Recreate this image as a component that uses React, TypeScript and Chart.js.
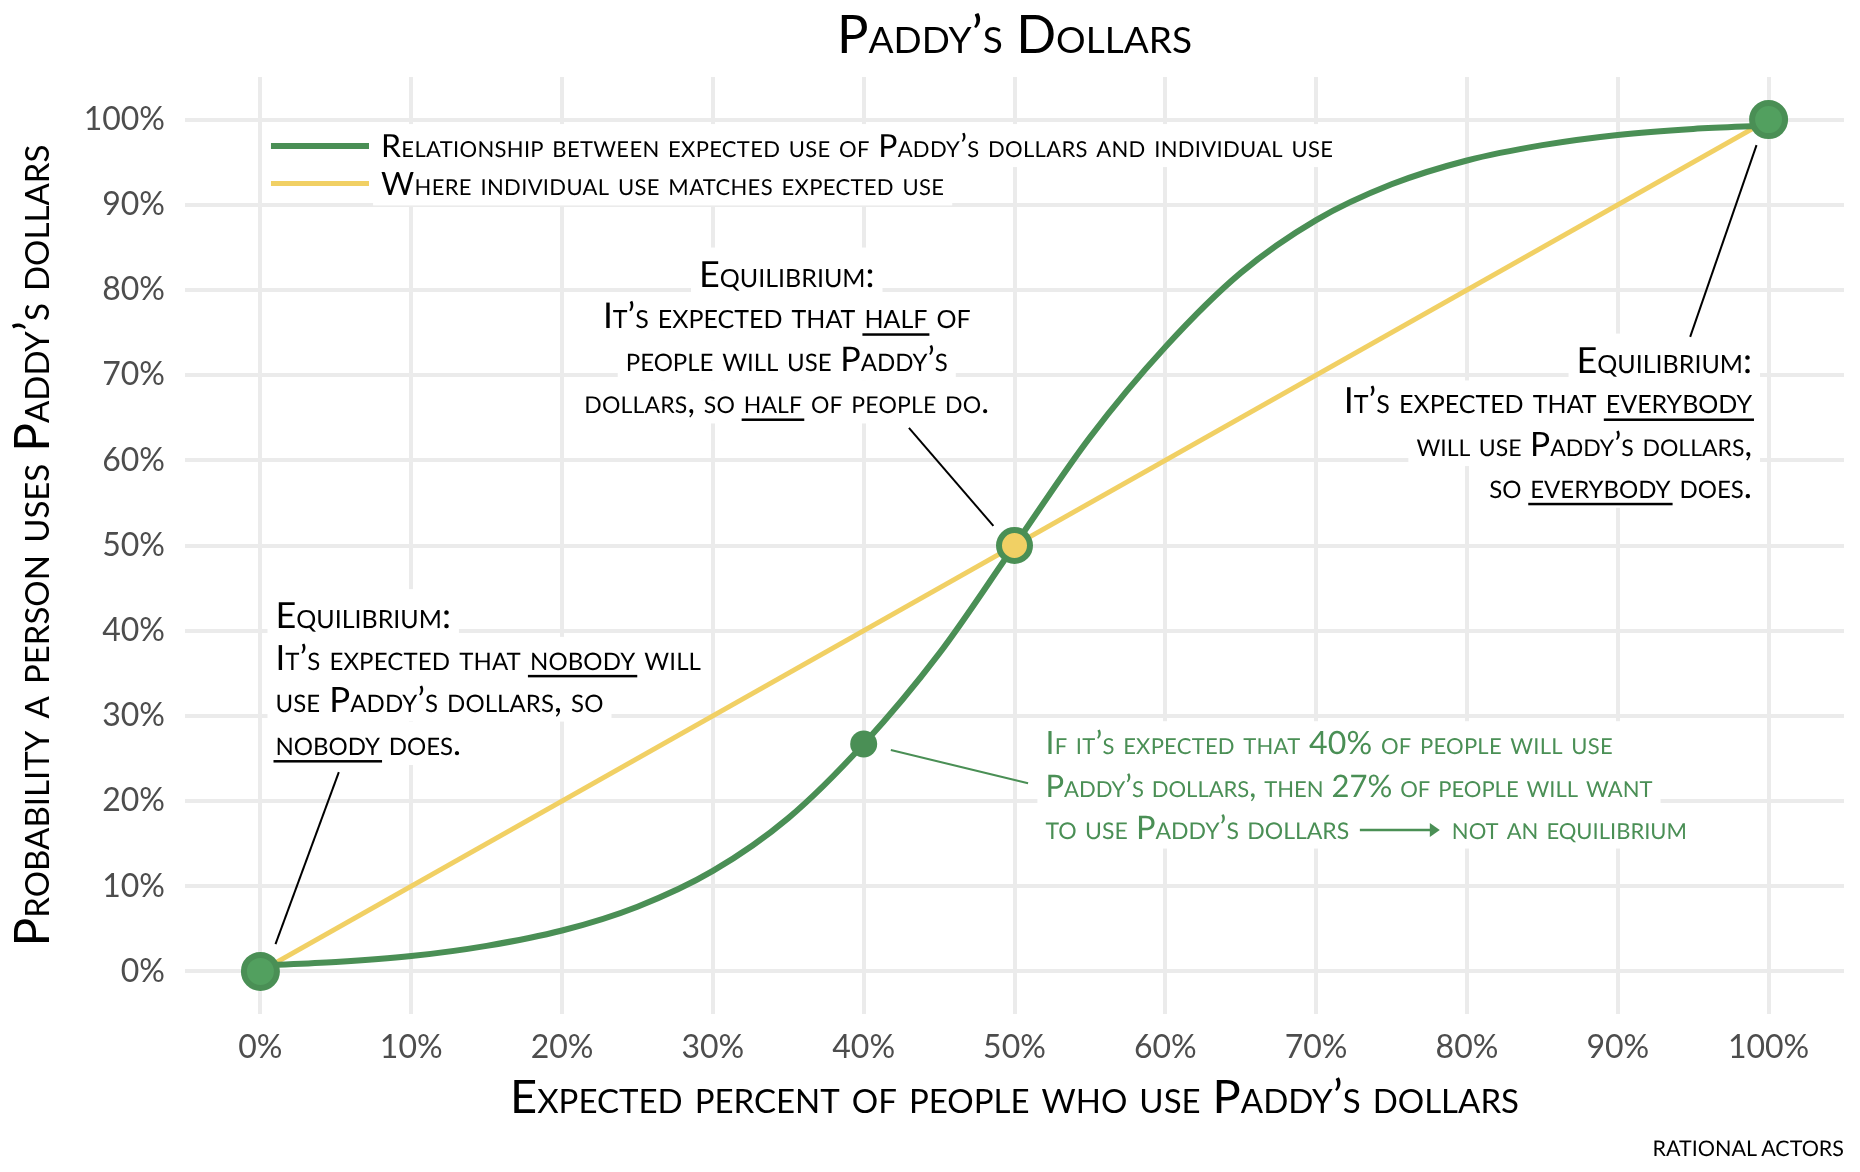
import { useEffect, useRef } from "react";
import { Chart, registerables, type Plugin } from "chart.js";

Chart.register(...registerables);

const GREEN = "#4a8f55";
const GREEN_LIGHT = "#52a05f";
const YELLOW = "#f1d064";
const GRID = "#ebebeb";
const TICK_TEXT = "#4d4d4d";
const FAMILY = "Lato";

const tickValues = [0, 10, 20, 30, 40, 50, 60, 70, 80, 90, 100];

const expectedUse = [
  0, 5, 10, 15, 20, 25, 30, 35, 40, 45, 50, 55, 60, 65, 70, 75, 80, 85, 90, 95,
  100,
];
const individualUse = [
  0.7, 1.1, 1.8, 3.0, 4.8, 7.6, 11.8, 18.0, 26.7, 37.3, 50, 62.7, 73.3, 82.0,
  88.2, 92.4, 95.2, 97.0, 98.2, 98.9, 99.3,
];
const diagonalX = [0, 100];
const diagonalY = [0, 100];

const equilibriaX = [0, 100];
const equilibriaY = [0, 100];
const middleX = [50];
const middleY = [50];
const offPointX = [40];
const offPointY = [26.7];

type TextLine = {
  text: string;
  x: number;
  y: number;
  size: number;
  spacing?: number;
  color?: string;
  align?: CanvasTextAlign;
  under?: string;
};

const black = "#000000";

// x and y are in chart units, y is the baseline
const noteLines: TextLine[] = [
  { text: "Equilibrium:", x: 1.0, y: 40.3, size: 36 },
  { text: "It’s expected that nobody will", x: 1.0, y: 35.4, size: 34.8, spacing: 0.13, under: "nobody" },
  { text: "use Paddy’s dollars, so", x: 1.0, y: 30.5, size: 34.8, spacing: 0.09 },
  { text: "nobody does.", x: 1.0, y: 25.4, size: 33.8, under: "nobody" },

  { text: "Equilibrium:", x: 34.9, y: 80.4, size: 36, align: "center" },
  { text: "It’s expected that half of", x: 34.9, y: 75.5, size: 35.5, align: "center", under: "half" },
  { text: "people will use Paddy’s", x: 34.9, y: 70.5, size: 34, align: "center" },
  { text: "dollars, so half of people do.", x: 34.9, y: 65.5, size: 33.1, spacing: 0.17, align: "center", under: "half" },

  { text: "Equilibrium:", x: 98.9, y: 70.3, size: 36, align: "right" },
  { text: "It’s expected that everybody", x: 98.9, y: 65.5, size: 36, align: "right", under: "everybody" },
  { text: "will use Paddy’s dollars,", x: 98.9, y: 60.5, size: 33.5, align: "right" },
  { text: "so everybody does.", x: 98.9, y: 55.6, size: 34.7, align: "right", under: "everybody" },

  { text: "If it’s expected that 40% of people will use", x: 52.05, y: 25.5, size: 32.05, spacing: 0.25, color: GREEN },
  { text: "Paddy’s dollars, then 27% of people will want", x: 52.05, y: 20.5, size: 31, color: GREEN },
  { text: "to use Paddy’s dollars", x: 52.05, y: 15.6, size: 32.5, color: GREEN },
  { text: "not an equilibrium", x: 79.0, y: 15.6, size: 31.5, color: GREEN },

  { text: "Relationship between expected use of Paddy’s dollars and individual use", x: 8.0, y: 95.6, size: 31.9, spacing: 0.32 },
  { text: "Where individual use matches expected use", x: 8.0, y: 91.1, size: 32, spacing: 0.34 },
];

// connector lines, [x1, y1, x2, y2] in chart units
const blackLeaders = [
  [5.2, 23.4, 1.0, 3.2],
  [43.0, 63.8, 48.6, 52.3],
  [94.8, 74.5, 99.2, 97.0],
];
const greenLeader = [50.9, 22.1, 41.8, 26.0];
const arrowLine = [72.9, 16.6, 78.2, 16.6];

const legendLines = [
  { x1: 0.7, x2: 7.2, y: 96.9, color: GREEN, width: 6 },
  { x1: 0.7, x2: 7.2, y: 92.5, color: YELLOW, width: 5 },
];

const annotations: Plugin<"line"> = {
  id: "annotations",
  beforeDatasetsDraw(chart) {
    const { ctx, scales } = chart;
    const px = (v: number) => scales.x.getPixelForValue(v);
    const py = (v: number) => scales.y.getPixelForValue(v);
    ctx.save();
    ctx.textRendering = "geometricPrecision";
    ctx.fillStyle = "#ffffff";
    for (const l of noteLines) {
      ctx.font = `small-caps ${l.size}px ${FAMILY}`;
      ctx.letterSpacing = `${l.spacing ?? 0}px`;
      const w = ctx.measureText(l.text).width;
      let left = px(l.x);
      if (l.align === "center") left -= w / 2;
      if (l.align === "right") left -= w;
      const up = l.text === "Equilibrium:" ? 39 : 33;
      ctx.fillRect(left - 8, py(l.y) - up, w + 16, up + 10);
    }
    // the gap around the arrow
    ctx.fillRect(px(arrowLine[0]) - 8, py(arrowLine[1]) - 24, px(arrowLine[2]) - px(arrowLine[0]) + 16, 43);
    ctx.restore();
  },
  afterDatasetsDraw(chart) {
    const { ctx, scales } = chart;
    const px = (v: number) => scales.x.getPixelForValue(v);
    const py = (v: number) => scales.y.getPixelForValue(v);
    ctx.save();

    for (const l of legendLines) {
      ctx.strokeStyle = l.color;
      ctx.lineWidth = l.width;
      ctx.beginPath();
      ctx.moveTo(px(l.x1), py(l.y));
      ctx.lineTo(px(l.x2), py(l.y));
      ctx.stroke();
    }

    ctx.strokeStyle = black;
    ctx.lineWidth = 2;
    for (const s of blackLeaders) {
      ctx.beginPath();
      ctx.moveTo(px(s[0]), py(s[1]));
      ctx.lineTo(px(s[2]), py(s[3]));
      ctx.stroke();
    }
    ctx.strokeStyle = GREEN;
    ctx.beginPath();
    ctx.moveTo(px(greenLeader[0]), py(greenLeader[1]));
    ctx.lineTo(px(greenLeader[2]), py(greenLeader[3]));
    ctx.stroke();

    ctx.lineWidth = 2.5;
    ctx.beginPath();
    ctx.moveTo(px(arrowLine[0]), py(arrowLine[1]));
    ctx.lineTo(px(arrowLine[2]) - 8, py(arrowLine[3]));
    ctx.stroke();
    ctx.fillStyle = GREEN;
    ctx.beginPath();
    ctx.moveTo(px(arrowLine[2]), py(arrowLine[3]));
    ctx.lineTo(px(arrowLine[2]) - 10, py(arrowLine[3]) - 7);
    ctx.lineTo(px(arrowLine[2]) - 10, py(arrowLine[3]) + 7);
    ctx.closePath();
    ctx.fill();

    ctx.textBaseline = "alphabetic";
    ctx.textRendering = "geometricPrecision";
    for (const l of noteLines) {
      ctx.font = `small-caps ${l.size}px ${FAMILY}`;
      ctx.letterSpacing = `${l.spacing ?? 0}px`;
      ctx.fillStyle = l.color ?? black;
      ctx.textAlign = "left";
      const w = ctx.measureText(l.text).width;
      let left = px(l.x);
      if (l.align === "center") left -= w / 2;
      if (l.align === "right") left -= w;
      const base = py(l.y);
      ctx.fillText(l.text, left, base);
      if (l.under) {
        const before = l.text.slice(0, l.text.indexOf(l.under));
        const start = left + ctx.measureText(before).width;
        const uw = ctx.measureText(l.under).width;
        ctx.fillRect(start - 2, base + 5, uw + 4, 2.5);
      }
    }

    ctx.letterSpacing = "0px";
    ctx.font = `21.5px ${FAMILY}`;
    ctx.fillStyle = black;
    ctx.textAlign = "right";
    ctx.fillText("RATIONAL ACTORS", chart.chartArea.right, 1156);
    ctx.restore();
  },
};

export default function App() {
  const canvasRef = useRef<HTMLCanvasElement | null>(null);

  useEffect(() => {
    const canvas = canvasRef.current;
    if (!canvas) return;
    document.body.style.margin = "0";

    const chart = new Chart(canvas, {
      type: "line",
      data: {
        datasets: [
          {
            label: "Off point",
            data: offPointX.map((x, i) => ({ x, y: offPointY[i] })),
            showLine: false,
            pointRadius: 13.5,
            pointBorderWidth: 0,
            pointBackgroundColor: GREEN,
          },
          {
            label: "Middle equilibrium",
            data: middleX.map((x, i) => ({ x, y: middleY[i] })),
            showLine: false,
            pointRadius: 15.5,
            pointBorderWidth: 6,
            pointBorderColor: GREEN,
            pointBackgroundColor: YELLOW,
          },
          {
            label: "Equilibria",
            data: equilibriaX.map((x, i) => ({ x, y: equilibriaY[i] })),
            showLine: false,
            pointRadius: 16.5,
            pointBorderWidth: 6,
            pointBorderColor: GREEN,
            pointBackgroundColor: GREEN_LIGHT,
          },
          {
            label: "Relationship",
            data: expectedUse.map((x, i) => ({ x, y: individualUse[i] })),
            borderColor: GREEN,
            borderWidth: 6,
            pointRadius: 0,
            cubicInterpolationMode: "monotone",
          },
          {
            label: "Match",
            data: diagonalX.map((x, i) => ({ x, y: diagonalY[i] })),
            borderColor: YELLOW,
            borderWidth: 5,
            pointRadius: 0,
          },
        ],
      },
      options: {
        responsive: false,
        animation: false,
        events: [],
        layout: { autoPadding: false, padding: { top: 10, right: 16, bottom: 0, left: 0 } },
        plugins: {
          legend: { display: false },
          tooltip: { enabled: false },
          title: {
            display: true,
            text: "Paddy’s Dollars",
            fullSize: false,
            color: black,
            font: { family: FAMILY, size: 52.5, weight: "small-caps" as any, lineHeight: 1 },
            padding: { top: 0, bottom: 14.5 },
          },
        },
        scales: {
          x: {
            type: "linear",
            min: -5,
            max: 105,
            border: { display: false },
            grid: { color: GRID, lineWidth: 4, drawTicks: false },
            ticks: {
              padding: 14,
              color: TICK_TEXT,
              autoSkip: false,
              maxRotation: 0,
              font: { family: FAMILY, size: 32 },
              callback: (v) => `${v}%`,
            },
            afterBuildTicks: (scale) => {
              scale.ticks = tickValues.map((value) => ({ value }));
            },
            afterFit: (scale) => {
              scale.height = 158;
            },
            title: {
              display: true,
              text: "Expected percent of people who use Paddy’s dollars",
              color: black,
              font: { family: FAMILY, size: 47, weight: "small-caps" as any, lineHeight: 1 },
              padding: { top: 0, bottom: 51 },
            },
          },
          y: {
            type: "linear",
            min: -5,
            max: 105,
            border: { display: false },
            grid: { color: GRID, lineWidth: 4, drawTicks: false },
            ticks: {
              padding: 20,
              color: TICK_TEXT,
              autoSkip: false,
              font: { family: FAMILY, size: 32 },
              callback: (v) => `${v}%`,
            },
            afterBuildTicks: (scale) => {
              scale.ticks = tickValues.map((value) => ({ value }));
            },
            afterFit: (scale) => {
              scale.width = 185;
            },
            title: {
              display: true,
              text: "Probability a person uses Paddy’s dollars",
              color: black,
              font: { family: FAMILY, size: 47.5, weight: "small-caps" as any, lineHeight: 1 },
              padding: { top: 10, bottom: 0 },
            },
          },
        },
      },
      plugins: [annotations],
    });

    return () => {
      chart.destroy();
    };
  }, []);

  return <canvas ref={canvasRef} width={1860} height={1172} style={{ display: "block" }} />;
}
